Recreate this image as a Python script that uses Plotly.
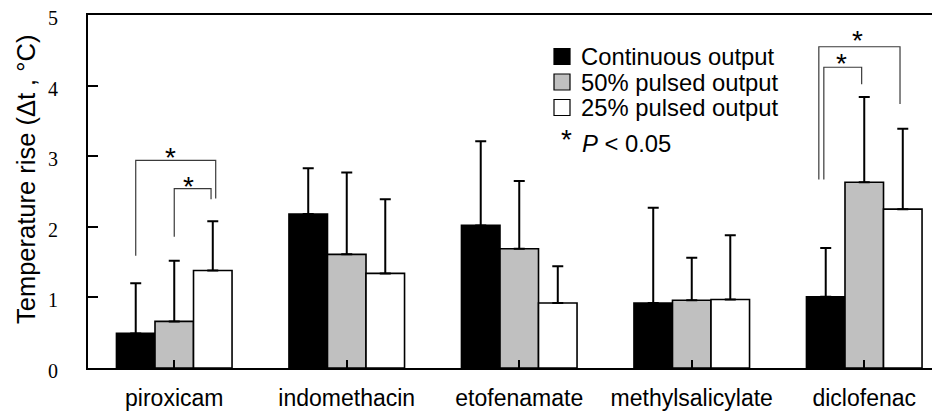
import plotly.graph_objects as go

# ---- data ----
categories = ["piroxicam", "indomethacin", "etofenamate", "methylsalicylate", "diclofenac"]
series_names = ["Continuous output", "50% pulsed output", "25% pulsed output"]
continuous = [0.49, 2.18, 2.02, 0.92, 1.01]
pulsed50 = [0.66, 1.61, 1.69, 0.96, 2.63]
pulsed25 = [1.38, 1.34, 0.92, 0.97, 2.25]
continuous_sd = [0.71, 0.65, 1.19, 1.35, 0.69]
pulsed50_sd = [0.86, 1.16, 0.96, 0.60, 1.21]
pulsed25_sd = [0.70, 1.05, 0.52, 0.91, 1.14]
y_ticks = [0, 1, 2, 3, 4, 5]
y_title = "Temperature rise (\u0394t , \u00b0C)"

colors = ["#000000", "#c0c0c0", "#ffffff"]

# page has an 8px body margin; figure is sized to fill the rest of the window
OFF = 8
W, H = 940 - OFF, 412 - OFF
L, R, T, B = 88 - OFF, 0, 15 - OFF, 44
BARGAP = 0.33
BW = (1 - BARGAP) / 3  # bar width in category units

fig = go.Figure()
for name, vals, sd, col in zip(series_names, [continuous, pulsed50, pulsed25],
                                [continuous_sd, pulsed50_sd, pulsed25_sd], colors):
    fig.add_trace(go.Bar(
        x=list(range(len(categories))), y=vals, name=name,
        marker=dict(color=col, line=dict(color="#000000", width=1.6)),
        error_y=dict(type="data", array=sd, arrayminus=[0] * len(sd), symmetric=False,
                     color="#000000", thickness=2, width=5.5),
        showlegend=False,
    ))

# significance brackets (data coords: category index + bar offset)
def bracket(cat, x0off, x1off, y0, ytop, y1):
    xs = [cat + x0off, cat + x0off, cat + x1off, cat + x1off]
    ys = [y0, ytop, ytop, y1]
    fig.add_trace(go.Scatter(x=xs, y=ys, mode="lines",
                             line=dict(color="#3a3a3a", width=1.2),
                             hoverinfo="skip", showlegend=False))

bracket(0, -BW, BW + 0.017, 1.59, 2.94, 2.40)
bracket(0, 0.0, BW - 0.01, 1.86, 2.54, 2.39)
bracket(4, -BW - 0.04, BW - 0.016, 2.67, 4.55, 3.74)
bracket(4, -BW - 0.011, -0.015, 2.67, 4.26, 4.02)

star_font = dict(family="Liberation Sans, Arial", size=28, color="#000000")
for sx, sy in [(-0.02, 3.07), (0.085, 2.66), (3.962, 4.72), (3.869, 4.40)]:
    fig.add_annotation(x=sx, y=sy, xref="x", yref="y", text="*", showarrow=False,
                       font=star_font, yanchor="middle", yshift=-6)

# legend drawn manually (page pixel -> paper helpers)
PW, PH = W - L - R, H - T - B
def px(xp):
    return (xp - OFF - L) / PW
def py(yp):
    return (H - B - (yp - OFF)) / PH

leg_font = dict(family="Liberation Sans, Arial", size=23.8, color="#000000")
for i, (name, col) in enumerate(zip(series_names, colors)):
    cy = 56.5 + i * 25.5
    fig.add_shape(type="rect", xref="paper", yref="paper",
                  x0=px(554), x1=px(570), y0=py(cy - 8), y1=py(cy + 8),
                  fillcolor=col, line=dict(color="#000000", width=1.2), layer="above")
    fig.add_annotation(xref="paper", yref="paper", x=px(579), y=py(cy), text=name,
                       showarrow=False, xanchor="left", yanchor="middle", font=leg_font)

fig.add_annotation(xref="paper", yref="paper", x=px(566), y=py(133), text="*",
                   showarrow=False, xanchor="center", yanchor="middle", font=star_font,
                   yshift=-6)
fig.add_annotation(xref="paper", yref="paper", x=px(580), y=py(143), text="<i>P</i> &lt; 0.05",
                   showarrow=False, xanchor="left", yanchor="middle", font=leg_font)

# y-axis title (placed like the reference, slightly above plot centre)
fig.add_annotation(xref="paper", yref="paper", x=px(26), y=py(180), text=y_title,
                   textangle=-90, showarrow=False, xanchor="center", yanchor="middle",
                   font=dict(family="Liberation Sans, Arial", size=25.5, color="#000000"))

fig.update_layout(
    width=W, height=H,
    margin=dict(l=L, r=R, t=T, b=B, pad=0, autoexpand=False),
    paper_bgcolor="#ffffff", plot_bgcolor="#ffffff",
    barmode="group", bargap=BARGAP, bargroupgap=0,
    xaxis=dict(
        range=[-0.5, -0.5 + PW / 172.5], automargin=False,
        tickmode="array", tickvals=list(range(len(categories))), ticktext=categories,
        tickson="boundaries", ticks="inside", ticklen=8, tickwidth=1.5, tickcolor="#000000",
        showline=True, linecolor="#000000", linewidth=2, mirror=True,
        showgrid=False, zeroline=False, ticklabelstandoff=8, ticklabeloverflow="allow",
        tickfont=dict(family="Liberation Sans, Arial", size=23, color="#000000"),
    ),
    yaxis=dict(
        range=[0, 5], automargin=False,
        tickmode="array", tickvals=y_ticks, ticktext=[str(v) for v in y_ticks],
        ticks="inside", ticklen=10, tickwidth=1.5, tickcolor="#000000",
        showline=True, linecolor="#000000", linewidth=2, mirror=False,
        showgrid=False, zeroline=False,
        ticklabelstandoff=24, ticklabelshift=3, ticklabeloverflow="allow",
        tickfont=dict(family="Liberation Serif, Times New Roman", size=20, color="#000000"),
    ),
)

fig.write_html("out.html")
